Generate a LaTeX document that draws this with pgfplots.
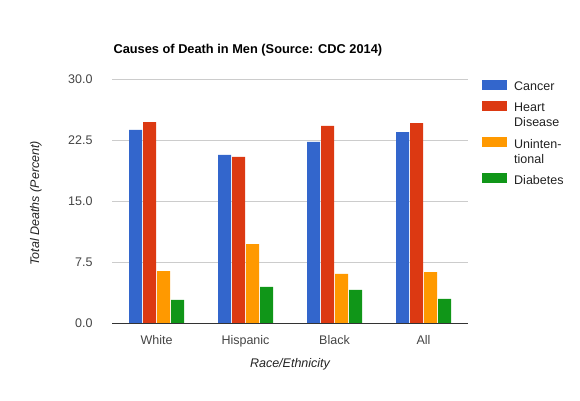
\documentclass[border=0pt]{standalone}
\usepackage{fontspec}
\setmainfont{Liberation Sans}
\usepackage{pgfplots}
\pgfplotsset{compat=1.18}
\definecolor{cA}{HTML}{3366CC}
\definecolor{cB}{HTML}{DC3912}
\definecolor{cC}{HTML}{FF9900}
\definecolor{cD}{HTML}{109618}
\definecolor{gridc}{HTML}{CCCCCC}
\definecolor{basec}{HTML}{333333}
\definecolor{tickc}{HTML}{444444}
\definecolor{textc}{HTML}{222222}
\begin{document}
\begin{tikzpicture}
\useasboundingbox (0,0) rectangle (580pt,400pt);
\begin{axis}[
  at={(112pt,76.7pt)}, anchor=south west,
  scale only axis, width=356pt, height=244pt,
  xmin=-0.5, xmax=3.5, ymin=0, ymax=30,
  ybar=1pt, bar width=13pt,
  xtick=data, xticklabels={White,Hispanic,Black,All},
  ytick={0,7.5,15,22.5,30},
  yticklabel style={/pgf/number format/fixed, /pgf/number format/fixed zerofill, /pgf/number format/precision=1},
  /pgf/number format/assume math mode=true,
  major tick length=0pt,
  tick label style={font=\fontsize{12.5}{15}\selectfont, text=tickc},
  yticklabel style={anchor=east, xshift=-16pt},
  xticklabel style={yshift=-9pt},
  ymajorgrids, grid style={color=gridc, line width=1pt},
  axis line style={draw=none},
  xlabel={Race/Ethnicity},
  ylabel={Total Deaths (Percent)},
  every axis x label/.style={at={(axis description cs:0.5,-0.168)}, anchor=center, font=\itshape\fontsize{12.5}{15}\selectfont, text=textc},
  every axis y label/.style={at={(axis description cs:-0.2135,0.492)}, anchor=center, rotate=90, font=\itshape\fontsize{12.5}{15}\selectfont, text=textc},
  legend image code/.code={\fill[#1] (0pt,-9.7pt) rectangle (25pt,0.3pt);},
  legend style={draw=none, fill=none, at={(rel axis cs:1,1)}, anchor=north west, xshift=14pt, yshift=0pt,
    font=\fontsize{12.5}{15}\selectfont, text=textc, cells={align=left, anchor=north west}, row sep=6.5pt, column sep=5pt, inner sep=0pt},
]
\addplot[fill=cA, draw=none] coordinates {(0,23.77) (1,20.70) (2,22.30) (3,23.50)};
\addplot[fill=cB, draw=none] coordinates {(0,24.75) (1,20.45) (2,24.26) (3,24.60)};
\addplot[fill=cC, draw=none] coordinates {(0,6.43) (1,9.75) (2,6.07) (3,6.30)};
\addplot[fill=cD, draw=none] coordinates {(0,2.87) (1,4.47) (2,4.10) (3,3.00)};
\legend{Cancer, Heart\\Disease, Uninten-\\tional, Diabetes}
\draw[basec, line width=1.3pt] (rel axis cs:0,0) -- (rel axis cs:1,0);
\end{axis}
\node[anchor=west, font=\bfseries\fontsize{12.8}{15}\selectfont, text=black] at (110pt,350pt) {Causes of Death in Men (Source: CDC 2014)};
\end{tikzpicture}
\end{document}
